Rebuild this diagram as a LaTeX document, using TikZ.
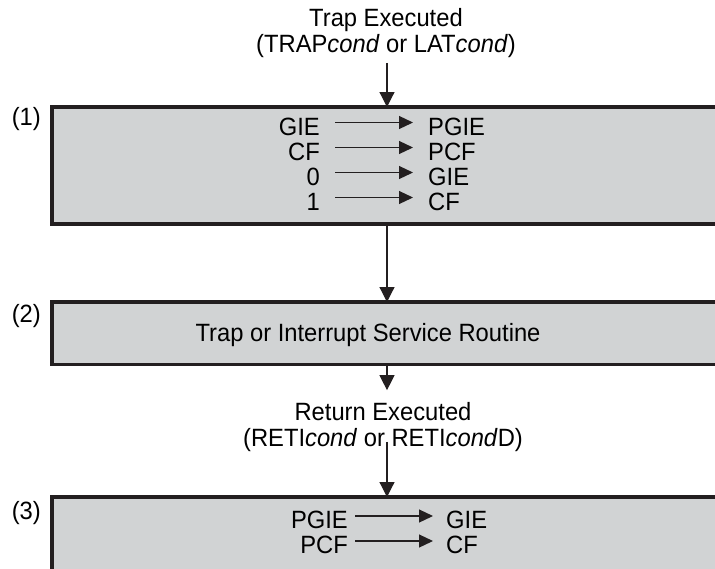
\documentclass[tikz,border=0pt]{standalone}
\usepackage{fontspec}
\setmainfont{Liberation Sans}[FakeStretch=0.95]
\usetikzlibrary{arrows.meta,positioning,calc}
\definecolor{boxgray}{HTML}{D1D3D4}
\definecolor{boxline}{HTML}{231F20}
\tikzset{
flowbox/.style={draw=boxline, fill=boxgray, line width=3.3pt, inner sep=0pt, outer sep=0pt, anchor=north west},
flowarrow/.style={-{Triangle[length=15pt, width=15pt]}, line width=1.2pt, draw=boxline},
bitarrow/.style={-{Triangle[length=14pt, width=13pt]}, line width=1.2pt, draw=boxline},
flowtext/.style={inner sep=0pt, text height=17.9pt, text depth=0pt},
steplabel/.style={inner sep=0pt, anchor=east},
eventtext/.style={inner sep=0pt, align=center}
}

\begin{document}
\begin{tikzpicture}[x=1pt, y=-1pt, font=\fontsize{25}{26}\selectfont]
\clip (0,0) rectangle (715,568);
\useasboundingbox (0,0) rectangle (715,568);

% boxes (they run off the right and bottom edge)
\node[flowbox, minimum width=700pt, minimum height=117pt] (box1) at (52,107) {};
\node[flowbox, minimum width=700pt, minimum height=62.5pt] (box2) at (52,302) {};
\node[flowbox, minimum width=700pt, minimum height=100pt] (box3) at (52,497) {};

\node[steplabel] (lab1) at (41,119) {(1)};
\node[steplabel] (lab2) at (41,316) {(2)};
\node[steplabel] (lab3) at (41,513) {(3)};

% events
\node[eventtext] (trap) at (386,33) {Trap Executed\\(TRAP\textit{cond} or LAT\textit{cond})};
\node[eventtext] (ret) at (383,427) {Return Executed\\(RETI\textit{cond} or RETI\textit{cond}D)};
\node[flowtext] (isr) at (368,333) {Trap or Interrupt Service Routine};
\coordinate (axis) at (387,0);

% bit moves
\foreach \src/\dst [count=\i] in {GIE/PGIE, CF/PCF, 0/GIE, 1/CF} {
  \node[flowtext, anchor=east] (src\i) at (320,101.5+25*\i) {\src};
  \node[flowtext, anchor=west] (dst\i) at (428,101.5+25*\i) {\dst};
  \draw[bitarrow] ([xshift=15pt,yshift=4pt]src\i.east) -- ([xshift=-15pt,yshift=4pt]dst\i.west);
}
\foreach \src/\dst [count=\i] in {PGIE/GIE, PCF/CF} {
  \node[flowtext, anchor=east] (rsrc\i) at (348,495+25*\i) {\src};
  \node[flowtext, anchor=west] (rdst\i) at (446,495+25*\i) {\dst};
  \draw[bitarrow] ([xshift=7pt,yshift=4pt]rsrc\i.east) -- ([xshift=-13pt,yshift=4pt]rdst\i.west);
}

\draw[flowarrow] ([yshift=-5pt]trap.south -| axis) -- (box1.north -| axis);
\draw[flowarrow] (box1.south -| axis) -- (box2.north -| axis);
\draw[flowarrow] (box2.south -| axis) -- ([yshift=12pt]ret.north -| axis);
\draw[flowarrow] ([yshift=10pt]ret.south -| axis) -- (box3.north -| axis);
\end{tikzpicture}
\end{document}
